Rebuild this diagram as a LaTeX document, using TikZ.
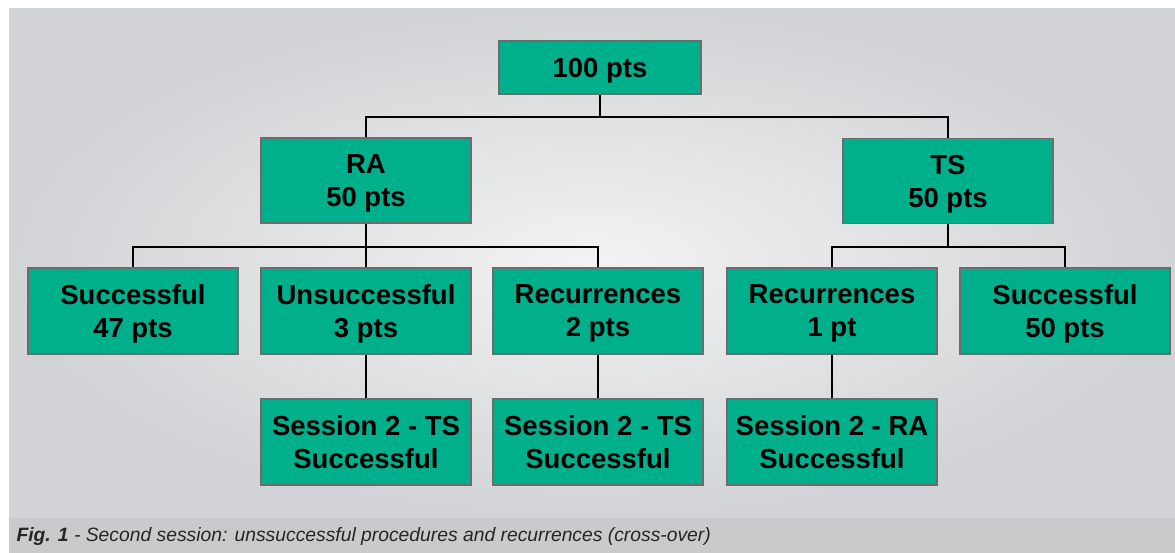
\documentclass[tikz,border=0pt]{standalone}
\usepackage{fontspec}
\setmainfont{Liberation Sans}
\begin{document}
\begin{tikzpicture}[x=1pt,y=-1pt,
  box/.style={draw=gray!85!black, line width=1.2pt, fill=boxgreen, minimum width=210pt, minimum height=86pt,
    inner sep=0pt, text depth=0pt, align=center, font=\fontsize{27.5}{33}\selectfont\bfseries, text=black},
  link/.style={draw=black, line width=1.5pt}]
\definecolor{boxgreen}{HTML}{00B08C}
\definecolor{bandgray}{HTML}{C9CACC}
\definecolor{bgin}{HTML}{F3F3F3}
\definecolor{bgout}{HTML}{D2D3D6}
\useasboundingbox (0,0) rectangle (1175,553);
\fill[white] (0,0) rectangle (1175,553);
\shade[inner color=bgin, outer color=bgout] (9,9) rectangle (1175,518);
\fill[bandgray] (9,518) rectangle (1175,553);
\node[anchor=west, font=\fontsize{19.3}{22}\selectfont\itshape, text=black!85] (cap) at (13,537)
  {\textbf{Fig. 1} - Second session: unssuccessful procedures and recurrences (cross-over)};

\node[box, minimum width=202pt, minimum height=53pt] (top) at (600,67.5) {100 pts};
\node[box, minimum height=85pt] (ra) at (366,180.5) {RA\\50 pts};
\node[box, minimum height=85pt] (ts) at (948,181) {TS\\50 pts};
\node[box] (s47) at (133,311) {Successful\\47 pts};
\node[box] (un) at (366,311) {Unsuccessful\\3 pts};
\node[box] (rec2) at (598,311) {Recurrences\\2 pts};
\node[box] (rec1) at (832,311) {Recurrences\\1 pt};
\node[box] (s50) at (1065,311) {Successful\\50 pts};
\node[box] (ses1) at (366,442) {Session 2 - TS\\Successful};
\node[box] (ses2) at (598,442) {Session 2 - TS\\Successful};
\node[box] (ses3) at (832,442) {Session 2 - RA\\Successful};

\coordinate (h1) at (600,117);
\coordinate (h2) at (366,247);
\coordinate (h3) at (948,247);
\draw[link] (top.south) -- (top.south |- h1);
\draw[link] (ra.north) |- (h1) -| (ts.north);
\draw[link] (ra.south) -- (ra.south |- h2);
\draw[link] (s47.north) |- (h2) -| (rec2.north);
\draw[link] (un.north) -- (un.north |- h2);
\draw[link] (ts.south) -- (ts.south |- h3);
\draw[link] (rec1.north) |- (h3) -| (s50.north);
\draw[link] (un.south) -- (ses1.north);
\draw[link] (rec2.south) -- (ses2.north);
\draw[link] (rec1.south) -- (ses3.north);
\end{tikzpicture}
\end{document}
